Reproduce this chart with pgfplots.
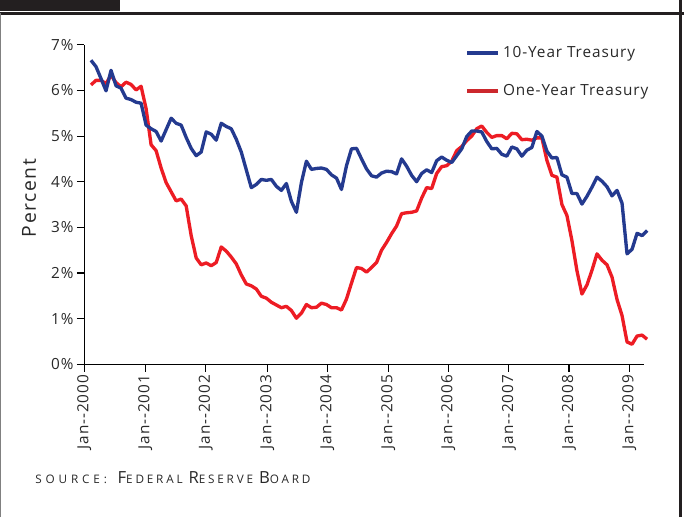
\documentclass[border=0pt]{standalone}
\usepackage{fontspec}
\setmainfont{Open Sans}
\newfontfamily\tickfont{Open Sans}[LetterSpace=6]
\newfontfamily\labfont{Open Sans}[LetterSpace=8]
\newfontfamily\srcA{Open Sans}[LetterSpace=33]
\newfontfamily\srcB{Open Sans}[LetterSpace=24]
\usepackage{pgfplots}
\usepackage{pgfplotstable}
\pgfplotsset{compat=1.18}
\definecolor{tblue}{RGB}{36,58,143}
\definecolor{tred}{RGB}{237,28,36}
\definecolor{lred}{RGB}{204,40,45}
\definecolor{txt}{RGB}{40,40,40}
\definecolor{frame}{RGB}{35,31,32}

% x = month index, 0 = Jan 2000
\pgfplotstableread{
x y
0 6.66
1 6.52
2 6.26
3 5.99
4 6.44
5 6.10
6 6.05
7 5.83
8 5.80
9 5.74
10 5.72
11 5.24
12 5.16
13 5.10
14 4.89
15 5.14
16 5.39
17 5.28
18 5.24
19 4.97
20 4.73
21 4.57
22 4.65
23 5.09
24 5.04
25 4.91
26 5.28
27 5.21
28 5.16
29 4.93
30 4.65
31 4.26
32 3.87
33 3.94
34 4.05
35 4.03
36 4.05
37 3.90
38 3.81
39 3.96
40 3.57
41 3.33
42 3.98
43 4.45
44 4.27
45 4.29
46 4.30
47 4.27
48 4.15
49 4.08
50 3.83
51 4.35
52 4.72
53 4.73
54 4.50
55 4.28
56 4.13
57 4.10
58 4.19
59 4.23
60 4.22
61 4.17
62 4.50
63 4.34
64 4.14
65 4.00
66 4.18
67 4.26
68 4.20
69 4.46
70 4.54
71 4.47
72 4.42
73 4.57
74 4.72
75 4.99
76 5.11
77 5.11
78 5.09
79 4.88
80 4.72
81 4.73
82 4.60
83 4.56
84 4.76
85 4.72
86 4.56
87 4.69
88 4.75
89 5.10
90 5.00
91 4.67
92 4.52
93 4.53
94 4.15
95 4.10
96 3.74
97 3.74
98 3.51
99 3.68
100 3.88
101 4.10
102 4.01
103 3.89
104 3.69
105 3.81
106 3.53
107 2.42
108 2.52
109 2.87
110 2.82
111 2.93
}\tenyr

\pgfplotstableread{
x y
0 6.12
1 6.22
2 6.22
3 6.15
4 6.33
5 6.17
6 6.08
7 6.18
8 6.13
9 6.01
10 6.09
11 5.60
12 4.81
13 4.68
14 4.30
15 3.98
16 3.78
17 3.58
18 3.62
19 3.47
20 2.82
21 2.33
22 2.18
23 2.22
24 2.16
25 2.23
26 2.57
27 2.48
28 2.35
29 2.20
30 1.96
31 1.76
32 1.72
33 1.65
34 1.49
35 1.45
36 1.36
37 1.30
38 1.24
39 1.27
40 1.18
41 1.01
42 1.12
43 1.31
44 1.24
45 1.25
46 1.34
47 1.31
48 1.24
49 1.24
50 1.19
51 1.43
52 1.78
53 2.12
54 2.10
55 2.02
56 2.12
57 2.23
58 2.50
59 2.67
60 2.86
61 3.03
62 3.30
63 3.32
64 3.33
65 3.36
66 3.64
67 3.87
68 3.85
69 4.18
70 4.33
71 4.35
72 4.45
73 4.68
74 4.77
75 4.90
76 5.00
77 5.16
78 5.22
79 5.08
80 4.97
81 5.01
82 5.01
83 4.94
84 5.06
85 5.05
86 4.92
87 4.93
88 4.91
89 4.96
90 4.96
91 4.47
92 4.14
93 4.10
94 3.50
95 3.26
96 2.71
97 2.05
98 1.54
99 1.74
100 2.06
101 2.42
102 2.28
103 2.18
104 1.91
105 1.42
106 1.07
107 0.49
108 0.44
109 0.62
110 0.64
111 0.55
}\oneyr

\begin{document}
\begin{tikzpicture}
\useasboundingbox (0,0) rectangle (513pt,387.75pt);
\fill[frame] (0,379.5pt) rectangle (90pt,387.75pt);
\draw[frame, line width=2pt] (0,377.8pt) -- (513pt,377.8pt);
\draw[frame, line width=2.4pt] (510.6pt,0) -- (510.6pt,387.75pt);
\draw[gray, line width=1pt] (0.5pt,0) -- (0.5pt,377.8pt);

\begin{axis}[
  at={(63.2pt,114.5pt)}, anchor=south west,
  scale only axis, width=420pt, height=239.7pt,
  xmin=-1.34, xmax=110.44, ymin=0, ymax=7,
  axis x line=bottom, axis y line=left,
  axis line style={-, black, line width=0.8pt},
  tick align=outside, major tick length=5.5pt,
  tick style={black, line width=0.8pt},
  xtick={-1.34,10.84,22.89,35.19,47.17,59.34,71.32,83.43,95.41,107.45},
  xticklabels={Jan--2000,Jan--2001,Jan--2002,Jan--2003,Jan--2004,Jan--2005,Jan--2006,Jan--2007,Jan--2008,Jan--2009},
  x tick label style={rotate=90, anchor=east},
  ytick={0,1,2,3,4,5,6,7},
  yticklabels={0\%,1\%,2\%,3\%,4\%,5\%,6\%,7\%},
  tick label style={font=\tickfont\fontsize{11.5}{13}\selectfont, text=txt},
  xticklabel shift=-1pt, yticklabel shift=-1pt,
  ylabel={Percent},
  ylabel style={at={(axis description cs:-0.0984,0.52)}, anchor=center, font=\labfont\fontsize{14.5}{16}\selectfont, text=txt},
  clip=false,
  legend cell align=left,
  legend style={draw=none, fill=none, inner sep=0pt, at={(axis description cs:0.68,1.005)}, anchor=north west,
     font=\tickfont\fontsize{11.5}{13}\selectfont, text=txt, row sep=15pt,
     /tikz/every odd column/.append style={column sep=0pt}},
  legend image code/.code={\draw[#1] (0pt,0pt) -- (23.25pt,0pt);},
]
\addplot[tred, line width=2.5pt, line join=round, forget plot] table {\oneyr};
\addplot[tblue, line width=2.5pt, line join=round, forget plot] table {\tenyr};
\addlegendimage{tblue, line width=3pt}
\addlegendentry{10-Year Treasury}
\addlegendimage{lred, line width=3pt}
\addlegendentry{One-Year Treasury}
\end{axis}

\node[anchor=base west, inner sep=0pt, text=txt] at (26.25pt,25.5pt)
  {{\srcA\fontsize{8.8}{10}\selectfont SOURCE:}\hspace{8pt}{\srcB{\fontsize{12.5}{13}\selectfont F}\fontsize{8.8}{10}\selectfont EDERAL {\fontsize{12.5}{13}\selectfont R}ESERVE {\fontsize{12.5}{13}\selectfont B}OARD}};
\end{tikzpicture}
\end{document}
